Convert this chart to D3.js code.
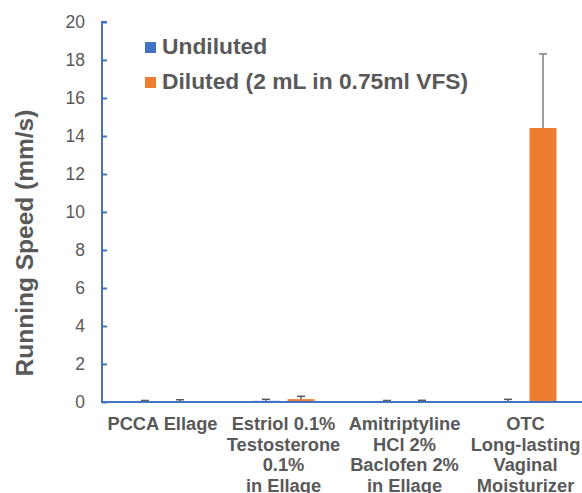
<!DOCTYPE html>
<html>
<head>
<meta charset="utf-8">
<script src="https://cdn.jsdelivr.net/npm/d3@7"></script>
<style>
  body { margin: 0; background: #fff; }
  svg { display: block; font-family: "Liberation Sans", Arial, sans-serif; }
</style>
</head>
<body>
<svg width="582" height="493"></svg>
<script>
const categories = [
  ['PCCA Ellage'],
  ['Estriol 0.1%', 'Testosterone', '0.1%', 'in Ellage'],
  ['Amitriptyline', 'HCl 2%', 'Baclofen 2%', 'in Ellage'],
  ['OTC', 'Long-lasting', 'Vaginal', 'Moisturizer']
];
const seriesNames = ['Undiluted', 'Diluted (2 mL in 0.75ml VFS)'];
const undiluted = [0.03, 0.06, 0.03, 0.04];
const undilutedErr = [0.05, 0.08, 0.05, 0.1];
const diluted = [0.04, 0.15, 0.03, 14.42];
const dilutedErr = [0.08, 0.15, 0.06, 3.9];
const yTicks = [0, 2, 4, 6, 8, 10, 12, 14, 16, 18, 20];

const colors = ['#4472C4', '#ED7D31'];
const textColor = '#595959';

const svg = d3.select('svg');
const mLeft = 102, mRight = 586, mTop = 22, mBottom = 402;

const catKeys = categories.map((c, i) => 'c' + i);
const x0 = d3.scaleBand().domain(catKeys).range([mLeft, mRight]);
const x1 = d3.scaleBand().domain([0, 1])
  .range([x0.bandwidth() / 2 - 31, x0.bandwidth() / 2 + 31])
  .paddingInner(0.229);
const y = d3.scaleLinear().domain([0, 20]).range([mBottom, mTop]);

// y axis
const yAxis = svg.append('g')
  .attr('transform', `translate(${mLeft},0)`)
  .call(d3.axisLeft(y).tickValues(yTicks).tickSize(-5).tickPadding(17));
yAxis.select('.domain').attr('stroke', colors[0]).attr('stroke-width', 2)
  .attr('d', `M5,${mTop}H0V${mBottom}`);
yAxis.selectAll('.tick line').attr('stroke', colors[0]).attr('stroke-width', 2);
yAxis.selectAll('.tick text').attr('fill', textColor)
  .style('font-size', '17.5px').attr('font-family', null);

svg.append('text')
  .attr('transform', 'translate(33,243) rotate(-90)')
  .attr('text-anchor', 'middle')
  .attr('fill', textColor)
  .style('font-size', '24.5px').style('font-weight', 'bold')
  .text('Running Speed (mm/s)');

// bars
const rows = catKeys.map((k, i) => ({
  key: k,
  vals: [
    { s: 0, v: undiluted[i], e: undilutedErr[i] },
    { s: 1, v: diluted[i], e: dilutedErr[i] }
  ]
}));

const groups = svg.selectAll('.grp')
  .data(rows)
  .enter()
  .append('g')
  .attr('class', 'grp')
  .attr('transform', d => `translate(${x0(d.key)},0)`);

groups.selectAll('rect')
  .data(d => d.vals)
  .enter()
  .append('rect')
  .attr('x', d => x1(d.s))
  .attr('width', x1.bandwidth())
  .attr('y', d => y(d.v))
  .attr('height', d => mBottom - y(d.v))
  .attr('fill', d => colors[d.s]);

// error bars
const eb = groups.selectAll('.err')
  .data(d => d.vals)
  .enter()
  .append('g')
  .attr('class', 'err')
  .attr('stroke', d => d.v > 5 ? '#7f7f7f' : '#595959')
  .attr('stroke-width', 1.5);
eb.append('line')
  .attr('x1', d => x1(d.s) + x1.bandwidth() / 2)
  .attr('x2', d => x1(d.s) + x1.bandwidth() / 2)
  .attr('y1', d => y(d.v))
  .attr('y2', d => y(d.v + d.e));
eb.append('line')
  .attr('x1', d => x1(d.s) + x1.bandwidth() / 2 - 4)
  .attr('x2', d => x1(d.s) + x1.bandwidth() / 2 + 4)
  .attr('y1', d => y(d.v + d.e))
  .attr('y2', d => y(d.v + d.e));

// x axis line
svg.append('line')
  .attr('x1', mLeft - 1).attr('x2', 582)
  .attr('y1', mBottom).attr('y2', mBottom)
  .attr('stroke', colors[0]).attr('stroke-width', 2);

// category labels
const lab = svg.selectAll('.cat')
  .data(rows)
  .enter()
  .append('text')
  .attr('class', 'cat')
  .attr('text-anchor', 'middle')
  .attr('fill', textColor)
  .style('font-size', '18.3px').style('font-weight', 'bold');
lab.selectAll('tspan')
  .data((d, i) => categories[i].map(t => ({ t, k: d.key })))
  .enter()
  .append('tspan')
  .attr('x', d => x0(d.k) + x0.bandwidth() / 2)
  .attr('y', (d, j) => 430 + j * 20.5)
  .text(d => d.t);

// legend
const leg = svg.selectAll('.leg')
  .data(seriesNames)
  .enter()
  .append('g')
  .attr('class', 'leg')
  .attr('transform', (d, i) => `translate(145,${42 + i * 35})`);
leg.append('rect').attr('width', 11).attr('height', 11)
  .attr('fill', (d, i) => colors[i]);
leg.append('text')
  .attr('x', 17).attr('y', 12)
  .attr('fill', textColor)
  .style('font-size', '22.8px').style('font-weight', 'bold')
  .text(d => d);
</script>
</body>
</html>
